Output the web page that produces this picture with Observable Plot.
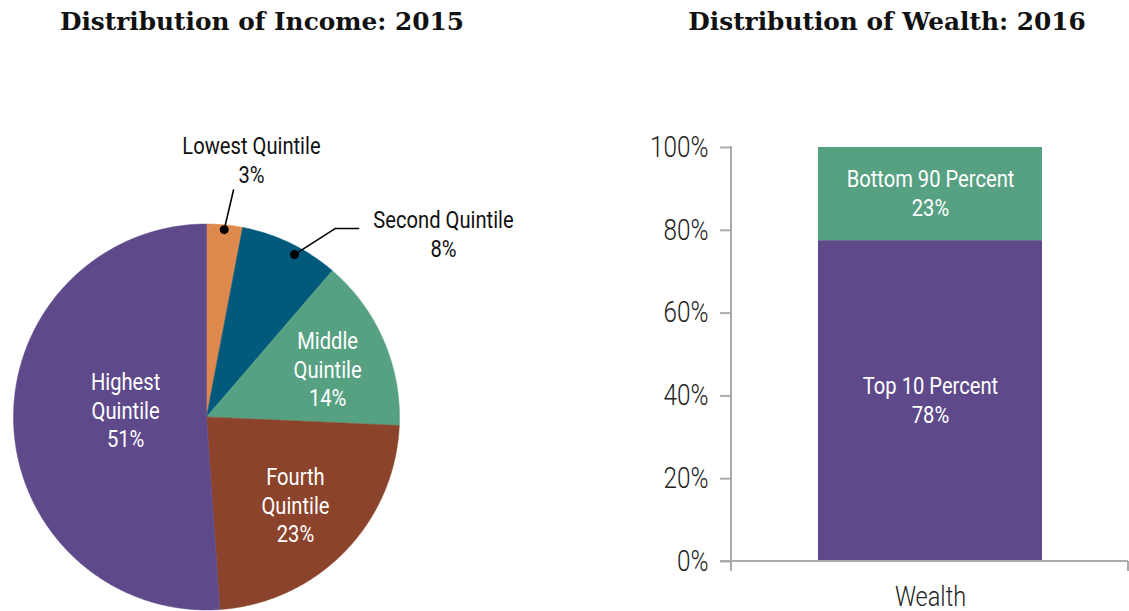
<!DOCTYPE html>
<html><head><meta charset="utf-8">
<script src="https://cdn.jsdelivr.net/npm/d3@7"></script>
<script src="https://cdn.jsdelivr.net/npm/@observablehq/plot@0.6"></script>
<style>
body{margin:0;background:#fff;}
#wrap{position:relative;width:1129px;height:611px;overflow:hidden;background:#fff;}
.title{position:absolute;top:7px;font-family:"DejaVu Serif",serif;font-weight:bold;font-size:24.8px;white-space:nowrap;transform:translateX(-50%);color:#111;}
#pie{position:absolute;left:0;top:100px;}
#bar{position:absolute;left:600px;top:100px;}
svg{overflow:visible;}
</style></head><body>
<div id="wrap">
<div class="title" style="left:262px">Distribution of Income: 2015</div>
<div class="title" style="left:887px">Distribution of Wealth: 2016</div>
<div id="pie"></div><div id="bar"></div>
</div>
<script>
// ---- data ----
const incomeGroups = ["Lowest Quintile","Second Quintile","Middle Quintile","Fourth Quintile","Highest Quintile"];
const incomeShares = [3.0, 8.3, 14.4, 23.2, 51.1];          // slice sizes as drawn
const incomeLabels = ["3%","8%","14%","23%","51%"];
const incomeColors = ["#E0894F","#015A7C","#57A183","#8B442B","#5E4A8A"];

const wealthCategory = ["Wealth"];
const wealthGroups = ["Top 10 Percent","Bottom 90 Percent"];
const wealthShares = [77.5, 22.5];
const wealthLabels = ["78%","23%"];
const wealthColors = ["#5E4A8A","#57A183"];
const yTicks = [0,20,40,60,80,100];

// ---- layout of annotations (pie units) ----
const insideLayout = { // radius fraction and angle nudge (deg)
  "Middle Quintile": {r:0.676, da:1.6},
  "Fourth Quintile": {r:0.647, da:0.3},
  "Highest Quintile": {r:0.421, da:7.3}
};
const outsideLayout = {
  "Lowest Quintile": {dotR:0.975, da:0, path:[[0.140,1.176]], text:[0.233,1.336]},
  "Second Quintile": {dotR:0.957, da:2.7, path:[[0.668,0.977],[0.788,0.977]], text:[1.228,0.950]}
};

const FONT = "Roboto,'Liberation Sans',sans-serif";
const CONDENSE = 0.84;

// ---- pie geometry from data ----
const arcs = d3.pie().sort(null).startAngle(0).endAngle(2*Math.PI)(incomeShares);
const slicePts = [];
arcs.forEach((a,i)=>{
  const g = incomeGroups[i];
  slicePts.push({g, x:0, y:0});
  const n = Math.max(6, Math.ceil((a.endAngle-a.startAngle)/0.005));
  for(let k=0;k<=n;k++){
    const t = a.startAngle+(a.endAngle-a.startAngle)*k/n;
    slicePts.push({g, x:Math.sin(t), y:Math.cos(t)});
  }
  slicePts.push({g, x:0, y:0});
});
const mid = i => (arcs[i].startAngle+arcs[i].endAngle)/2;
const insideText = [], dots = [], leaders = [], outsideText = [];
incomeGroups.forEach((g,i)=>{
  if(insideLayout[g]){
    const L = insideLayout[g], t = mid(i)+L.da*Math.PI/180;
    insideText.push({x:L.r*Math.sin(t), y:L.r*Math.cos(t), text:g.replace(" ","\n")+"\n"+incomeLabels[i]});
  } else {
    const L = outsideLayout[g], t = mid(i)+L.da*Math.PI/180;
    const d = {x:L.dotR*Math.sin(t), y:L.dotR*Math.cos(t)};
    dots.push(d);
    leaders.push({g, x:d.x, y:d.y});
    L.path.forEach(p=>leaders.push({g, x:p[0], y:p[1]}));
    outsideText.push({x:L.text[0], y:L.text[1], text:g+"\n"+incomeLabels[i]});
  }
});

const pie = Plot.plot({
  width:560, height:511, margin:0,
  style:{fontFamily:FONT, background:"transparent"},
  x:{domain:[-1,1], range:[13,399], axis:null},
  y:{domain:[-1,1], range:[509.5,123.5], axis:null},
  color:{domain:incomeGroups, range:incomeColors},
  marks:[
    Plot.line(slicePts,{x:"x", y:"y", z:"g", fill:"g", stroke:"g", strokeWidth:0.5, curve:"linear"}),
    Plot.line(leaders,{x:"x", y:"y", z:"g", stroke:"#000", strokeWidth:1.6}),
    Plot.dot(dots,{x:"x", y:"y", r:4.5, fill:"#000"}),
    Plot.text(insideText,{x:"x", y:"y", text:"text", fill:"#fff", fontSize:24, lineHeight:1.19}),
    Plot.text(outsideText,{x:"x", y:"y", text:"text", fill:"#111", fontSize:24, lineHeight:1.21})
  ]
});
document.getElementById("pie").append(pie);

// ---- bar chart ----
const wealthData = wealthGroups.map((g,i)=>({cat:wealthCategory[0], group:g, value:wealthShares[i], label:wealthLabels[i]}));
const axisFrame = (index, scales, values, dims) => {
  const g = d3.create("svg:g").attr("stroke","#ABABAB").attr("stroke-width",2);
  const x0 = dims.marginLeft, x1 = dims.width - dims.marginRight;
  const y0 = dims.marginTop, y1 = dims.height - dims.marginBottom;
  g.append("line").attr("x1",x0).attr("x2",x0).attr("y1",y0-1).attr("y2",y1+10);
  g.append("line").attr("x1",x1).attr("x2",x1).attr("y1",y1).attr("y2",y1+10);
  g.append("line").attr("x1",x0-11).attr("x2",x1).attr("y1",y1).attr("y2",y1);
  return g.node();
};
const bar = Plot.plot({
  width:529, height:511, marginLeft:131, marginRight:1, marginTop:47, marginBottom:50,
  style:{fontFamily:FONT, background:"transparent"},
  x:{domain:wealthCategory, padding:0.278, label:null},
  y:{domain:[0,100], label:null},
  color:{domain:wealthGroups, range:wealthColors},
  marks:[
    Plot.barY(wealthData,{x:"cat", y:"value", fill:"group"}),
    Plot.text(wealthData, Plot.stackY({x:"cat", y:"value", z:"group", text:d=>d.group+"\n"+d.label, fill:"#fff", fontSize:24, lineHeight:1.22, dy:-2})),
    Plot.axisY({ticks:yTicks, tickFormat:d=>d+"%", tickSize:11, tickPadding:12, stroke:"#ABABAB", strokeWidth:2, fill:"#222", fontSize:29, fontWeight:300, label:null}),
    Plot.axisX({tickSize:0, tickPadding:25, fill:"#222", fontSize:28, fontWeight:300, label:null}),
    axisFrame
  ]
});
document.getElementById("bar").append(bar);

// emulate the condensed typeface of the original: scale each text horizontally about its anchor
for (const svg of [pie, bar]) {
  svg.querySelectorAll("text").forEach(t => {
    const x = +(t.getAttribute("x") || 0);
    const tr = t.getAttribute("transform") || "";
    t.setAttribute("transform", `${tr} translate(${x},0) scale(${CONDENSE},1) translate(${-x},0)`.trim());
  });
}
</script>
</body></html>
